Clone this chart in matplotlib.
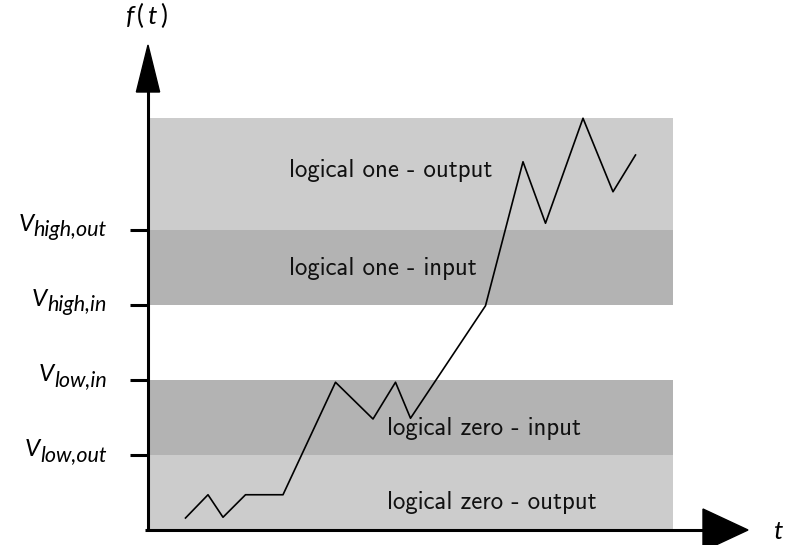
import matplotlib
matplotlib.use("Agg")
import matplotlib.pyplot as plt
from matplotlib.patches import Polygon

plt.rcParams['mathtext.fontset'] = 'custom'
plt.rcParams['mathtext.it'] = 'Lato:italic'
plt.rcParams['mathtext.rm'] = 'Lato'

# data
t_vals = [1, 1.6, 2, 2.6, 3.6, 5, 6, 6.6, 7, 9, 10, 10.6, 11.6, 12.4, 13]
f_vals = [0.16, 0.47, 0.17, 0.47, 0.47, 1.97, 1.48, 1.97, 1.49, 2.99, 4.91, 4.09, 5.49, 4.51, 5.0]
levels = [1, 2, 3, 4]
level_subs = ['low,out', 'low,in', 'high,in', 'high,out']
band_edges = [0, 1, 2, 3, 4, 5.5]
band_colors = ['#cccccc', '#b3b3b3', None, '#b3b3b3', '#cccccc']
band_texts = ['logical zero - output', 'logical zero - input', None,
              'logical one - input', 'logical one - output']
band_text_pos = [(6.37, 0.37), (6.37, 1.35), None, (3.76, 3.48), (3.76, 4.8)]
t_end = 14

fig = plt.figure(figsize=(7.86, 5.45), dpi=100)
ax = fig.add_axes([0, 0, 1, 1])
ax.set_xlim(-148 / 37.5, 638 / 37.5)
ax.set_ylim(-15 / 75, 530 / 75)
ax.axis('off')

for i in range(len(band_colors)):
    if band_colors[i] is not None:
        ax.fill_between([0, t_end], band_edges[i], band_edges[i + 1],
                        color=band_colors[i], lw=0, zorder=1)
    if band_texts[i] is not None:
        x, y = band_text_pos[i]
        ax.text(x, y, band_texts[i], ha='left', va='center', fontsize=17.8,
                family='cmss10', color='#111111', zorder=3)

ax.plot(t_vals, f_vals, color='black', lw=1.2, zorder=4)

# axes
ax.plot([0, 0], [0, 5.9], color='black', lw=2.2, zorder=5, solid_capstyle='butt')
ax.plot([-0.08, 15], [0, 0], color='black', lw=2.2, zorder=5, solid_capstyle='butt')
ax.add_patch(Polygon([[-0.31, (530 - 92) / 75], [0.31, (530 - 92) / 75], [0, (530 - 45) / 75]],
                     closed=True, color='black', zorder=6))
ax.add_patch(Polygon([[(703 - 148) / 37.5, 0.28], [(703 - 148) / 37.5, -0.28], [(748 - 148) / 37.5, 0]],
                     closed=True, color='black', zorder=6))

renderer = fig.canvas.get_renderer()
inv = ax.transData.inverted()
for lv, sub in zip(levels, level_subs):
    ax.plot([-0.48, 0], [lv, lv], color='black', lw=2.2, zorder=5, solid_capstyle='butt')
    st = ax.text(-1.1, lv - 6 / 75, sub, ha='right', va='baseline', fontsize=15.5,
                 family='Lato', style='italic', zorder=5)
    bb = st.get_window_extent(renderer=renderer)
    x0 = inv.transform((bb.x0, bb.y0))[0]
    ax.text(x0, lv - 1 / 75, 'V', ha='right', va='baseline', fontsize=17.5,
            family='Lato', style='italic', zorder=5)

ax.text(-0.05, (530 - 15) / 75, r'$f\,(\,t\,)$', ha='center', va='center', fontsize=19)
ax.text((778 - 148) / 37.5, -0.03, r'$t$', ha='center', va='center', fontsize=19)

fig.savefig('out.png', dpi=100)
